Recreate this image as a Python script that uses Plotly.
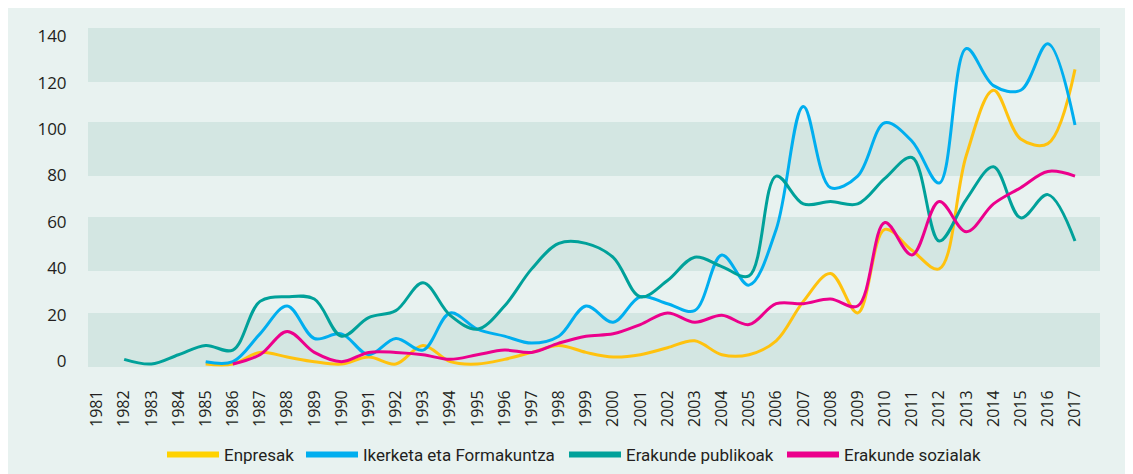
import plotly.graph_objects as go

years = list(range(1981, 2018))
tick_labels = [str(y) for y in years]
y_ticks = [0, 20, 40, 60, 80, 100, 120, 140]

# Enpresak (from 1985)
enpresak = [None, None, None, None,
            0, 0, 5, 3, 1, 0, 3, 0, 8, 1, 0, 2, 5, 8, 5, 3,
            4, 7, 10, 4, 4, 10, 27, 39, 22, 58, 49, 41, 90, 118, 97, 95, 127]
# Ikerketa eta Formakuntza (from 1985)
ikerketa = [None, None, None, None,
            1, 1, 13, 25, 11, 13, 4, 11, 6, 22, 15, 12, 9, 12, 25, 18,
            29, 26, 23, 47, 34, 58, 111, 76, 81, 104, 96, 78, 136, 120, 118, 138, 103]
# Erakunde publikoak (from 1982)
publikoak = [None,
             2, 0, 4, 8, 6, 27, 29, 28, 12, 20, 23, 35, 21, 15, 25, 41, 52, 52, 46,
             29, 36, 46, 42, 38, 81, 69, 70, 69, 80, 89, 53, 71, 85, 63, 73, 53]
# Erakunde sozialak (from 1986)
sozialak = [None, None, None, None, None,
            0, 4, 14, 5, 1, 5, 5, 4, 2, 4, 6, 5, 9, 12, 13,
            17, 22, 18, 21, 17, 26, 26, 28, 25, 61, 47, 70, 57, 69, 76, 83, 81]

series = [
    ("Enpresak", enpresak, "#FFC20E", "#FFD200"),
    ("Ikerketa eta Formakuntza", ikerketa, "#00AEEF", "#00AEEF"),
    ("Erakunde publikoak", publikoak, "#00A19A", "#00A19A"),
    ("Erakunde sozialak", sozialak, "#EC008C", "#EC008C"),
]

# page offset of the figure (body margin) and figure size
OFF = 8
W, H = 1133 - OFF, 474 - OFF
L, R, T, B = 88 - OFF, 1100 - OFF, 28 - OFF, 367 - OFF
pw, ph = R - L, B - T

def py(yp):
    return (B - (yp - OFF)) / ph

legend_x = [162, 301, 564, 782]
legend_names = ["legend", "legend2", "legend3", "legend4"]

fig = go.Figure()
for name, vals, col, _ in series:
    fig.add_trace(go.Scatter(
        x=years, y=vals, mode="lines", name=name, legendgroup=name,
        showlegend=False, connectgaps=False,
        line=dict(color=col, width=3, shape="spline", smoothing=1.0),
        hovertemplate="%{x}: %{y}<extra>" + name + "</extra>",
    ))
for (name, vals, col, lcol), lg in zip(series, legend_names):
    fig.add_trace(go.Scatter(
        x=[None], y=[None], mode="lines", name=name, legendgroup=name,
        showlegend=True, legend=lg, line=dict(color=lcol, width=6),
    ))

shapes = []
for top, bot in [(28, 82), (122, 176), (217, 271), (313, 367)]:
    shapes.append(dict(type="rect", xref="paper", yref="paper",
                       x0=0, x1=1, y0=py(bot), y1=py(top),
                       fillcolor="#D3E6E2", line=dict(width=0), layer="below"))

x0 = 1981 - (97 - 88) / 27.17
x1 = 2017 + (1100 - 1075) / 27.17
y_lo = -(367 - 364) / 2.32
y_hi = (364 - 28) / 2.32

legend_font = dict(family="Liberation Sans Narrow, Roboto, sans-serif", size=17, color="#231F20")
legends = {}
for lg, lx in zip(legend_names, legend_x):
    legends[lg] = dict(orientation="h", xref="container", yref="container",
                       x=(lx - OFF) / W, xanchor="left",
                       y=1 - (455 - OFF) / H, yanchor="middle",
                       bgcolor="rgba(0,0,0,0)", font=legend_font, itemwidth=52)

fig.update_layout(
    width=W, height=H,
    margin=dict(l=L, r=W - R, t=T, b=H - B, pad=0, autoexpand=False),
    paper_bgcolor="#E8F2F0",
    plot_bgcolor="rgba(0,0,0,0)",
    shapes=shapes,
    font=dict(family="Open Sans, sans-serif", color="#231F20"),
    xaxis=dict(range=[x0, x1], tickmode="array", tickvals=years, ticktext=tick_labels,
               tickangle=-90, showgrid=False, zeroline=False, showline=False,
               automargin=False,
               ticks="outside", ticklen=16, tickcolor="rgba(0,0,0,0)",
               tickfont=dict(size=16, color="#231F20"), fixedrange=True),
    yaxis=dict(range=[y_lo, y_hi], tickmode="array", tickvals=y_ticks,
               showgrid=False, zeroline=False, showline=False,
               automargin=False, ticklabelshift=-3,
               ticks="outside", ticklen=17, tickcolor="rgba(0,0,0,0)",
               tickfont=dict(size=17, color="#231F20"), fixedrange=True),
    showlegend=True,
    **legends,
)

fig.write_html("out.html")
